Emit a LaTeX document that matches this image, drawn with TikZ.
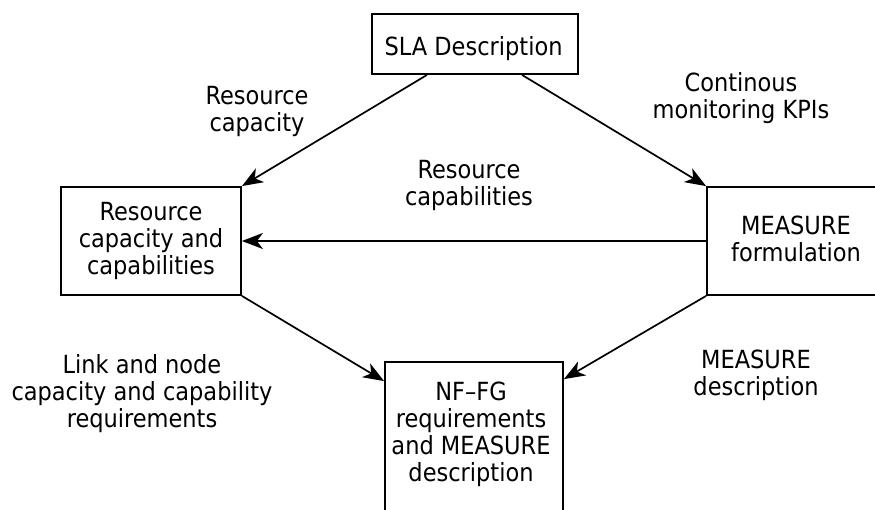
\documentclass[tikz,border=0pt]{standalone}
\usepackage{fontspec}
\setmainfont{DejaVu Sans Condensed}
\usetikzlibrary{arrows.meta}
\begin{document}
\begin{tikzpicture}[x=1pt,y=-1pt,
  font=\fontsize{25}{27}\selectfont,
  box/.style={draw, line width=1.8pt, inner sep=0pt},
  lbl/.style={inner sep=0pt, align=center},
  conn/.style={line width=1.7pt, -{Stealth[length=21pt,width=16pt,inset=6pt]}}]
\useasboundingbox (0,0) rectangle (875,509);
\clip (0,0) rectangle (875,509);
% boxes
\node[box, minimum width=206pt, minimum height=60pt] (sla) at (475,44) {};
\node[lbl] (slat) at (473.5,48.5) {SLA Description};
\node[box, minimum width=180pt, minimum height=108pt, align=center] (res) at (151,241)
  {Resource\\capacity and\\capabilities};
\node[box, minimum width=220pt, minimum height=108pt] (mf) at (817,241) {};
\node[lbl] (mft) at (796,239) {MEASURE\\formulation};
\node[box, minimum width=178pt, minimum height=180pt] (nf) at (474,452) {};
\node[lbl] (nft) at (471,434.6) {NF--FG\\requirements\\and MEASURE\\description};
% connectors
\draw[conn] ([xshift=-48pt]sla.south) -- (res.north east);
\draw[conn] ([xshift=47pt]sla.south) -- (mf.north west);
\draw[conn] (mf.west) -- (res.east);
\draw[conn] (res.south east) -- ([yshift=-20pt]nf.north west);
\draw[conn] (mf.south west) -- ([yshift=-18pt]nf.north east);
% labels
\node[lbl] (l1) at (257,111) {Resource\\capacity};
\node[lbl] (l2) at (741,98) {Continous\\monitoring KPIs};
\node[lbl] (l3) at (469,185) {Resource\\capabilities};
\node[lbl] (l4) at (142,394) {Link and node\\capacity and capability\\requirements};
\node[lbl] (l5) at (756,375) {MEASURE\\description};
\end{tikzpicture}
\end{document}
